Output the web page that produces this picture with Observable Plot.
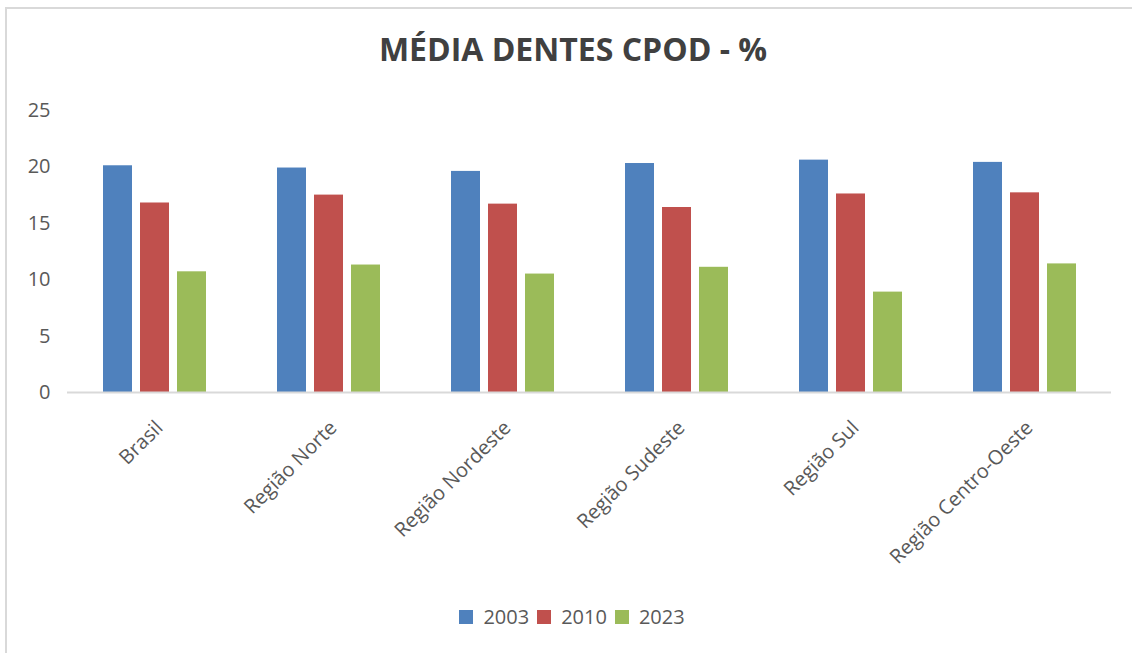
<!DOCTYPE html>
<html>
<head>
<meta charset="utf-8">
<script src="https://cdn.jsdelivr.net/npm/d3@7"></script>
<script src="https://cdn.jsdelivr.net/npm/@observablehq/plot@0.6"></script>
<style>
  html, body { margin: 0; padding: 0; background: #fff; }
  #wrap { position: relative; width: 1132px; height: 653px; overflow: hidden; font-family: "Open Sans", sans-serif; }
  #frame { position: absolute; left: 5px; top: 7px; right: -10px; bottom: -10px; border-top: 2px solid #d9d9d9; border-left: 2px solid #d9d9d9; }
  #title { position: absolute; left: 0; width: 1146px; top: 27px; text-align: center; font-size: 32px; font-weight: 700; color: #404040; }
  #chart { position: absolute; left: 0; top: 0; }
  #legend { position: absolute; left: 0; width: 1144px; top: 603px; display: flex; justify-content: center; font-size: 20px; color: #595959; }
  .item { display: flex; align-items: center; margin: 0 4px; }
  .sw { width: 14px; height: 14px; margin-right: 10px; }
</style>
</head>
<body>
<div id="wrap">
  <div id="frame"></div>
  <div id="chart"></div>
  <div id="title">MÉDIA DENTES CPOD - %</div>
  <div id="legend"></div>
</div>
<script>
const regions = ["Brasil", "Região Norte", "Região Nordeste", "Região Sudeste", "Região Sul", "Região Centro-Oeste"];
const years = ["2003", "2010", "2023"];
const v2003 = [20.1, 19.9, 19.6, 20.3, 20.6, 20.4];
const v2010 = [16.8, 17.5, 16.7, 16.4, 17.6, 17.7];
const v2023 = [10.7, 11.3, 10.5, 11.1, 8.9, 11.4];
const colors = ["#4F81BD", "#C0504D", "#9BBB59"];
const yTicks = [0, 5, 10, 15, 20, 25];

const series = [v2003, v2010, v2023];
const data = [];
regions.forEach((r, i) => years.forEach((y, j) => data.push({region: r, year: y, value: series[j][i]})));

const chart = Plot.plot({
  width: 1132,
  height: 590,
  marginLeft: 66,
  marginRight: 20,
  marginTop: 110,
  marginBottom: 198,
  style: { fontFamily: "'Open Sans', sans-serif", fontSize: "20px", color: "#595959", background: "transparent", overflow: "visible" },
  fx: { domain: regions, paddingInner: 0, paddingOuter: 0, label: null },
  x: { domain: years, axis: null, paddingInner: 0.22, paddingOuter: 0.95 },
  y: { domain: [0, 25], ticks: yTicks, tickSize: 0, tickPadding: 17, label: null, tickFormat: d3.format("d") },
  color: { domain: years, range: colors },
  marks: [
    Plot.barY(data, { fx: "region", x: "year", y: "value", fill: "year" }),
    Plot.ruleY([0], { stroke: "#d9d9d9", strokeWidth: 2 }),
    Plot.axisFx({ anchor: "bottom", tickSize: 0, tickRotate: -45, tickPadding: 32, dx: 5, label: null, fontSize: 20 })
  ]
});
document.getElementById("chart").appendChild(chart);

const legend = document.getElementById("legend");
years.forEach((y, i) => {
  const it = document.createElement("div");
  it.className = "item";
  const sw = document.createElement("div");
  sw.className = "sw";
  sw.style.background = colors[i];
  const t = document.createElement("span");
  t.textContent = y;
  it.appendChild(sw); it.appendChild(t);
  legend.appendChild(it);
});
</script>
</body>
</html>
